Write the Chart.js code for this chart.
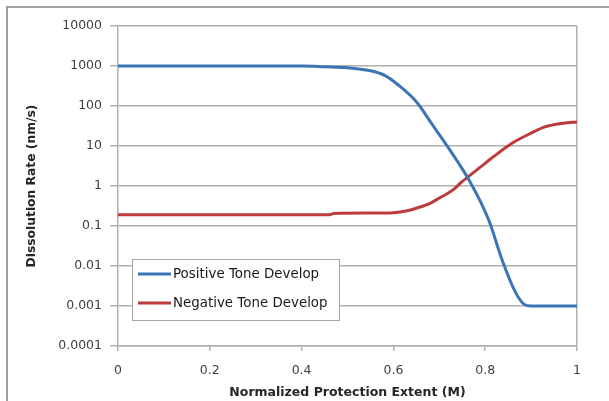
<!DOCTYPE html>
<html>
<head>
<meta charset="utf-8">
<script src="https://cdn.jsdelivr.net/npm/chart.js@4.4.1/dist/chart.umd.min.js"></script>
<style>
  html, body { margin: 0; padding: 0; background: #fff; }
  #wrap { position: relative; width: 609px; height: 401px; }
  #frame { position: absolute; left: 6px; top: 6px; right: 0; bottom: 0;
           border-left: 2px solid #a0a0a0; border-top: 2px solid #a0a0a0; }
</style>
</head>
<body>
<div id="wrap">
  <canvas id="dispChart" width="609" height="401"></canvas>
  <div id="frame"></div>
</div>
<script>
  // data
  const posX = [0, 0.1, 0.2, 0.3, 0.4, 0.45, 0.5, 0.55, 0.58, 0.61, 0.65, 0.685, 0.72, 0.745, 0.765, 0.79, 0.81, 0.837, 0.867, 0.885, 0.9, 0.95, 1];
  const posY = [1000, 1000, 1000, 1000, 1000, 960, 910, 760, 590, 340, 128, 34, 9, 3.3, 1.4, 0.4, 0.12, 0.014, 0.0021, 0.0011, 0.001, 0.001, 0.001];

  const negX = [0, 0.1, 0.2, 0.3, 0.4, 0.46, 0.47, 0.55, 0.6, 0.63, 0.65, 0.68, 0.7, 0.73, 0.75, 0.76, 0.79, 0.82, 0.86, 0.9, 0.93, 0.97, 1];
  const negY = [0.19, 0.19, 0.19, 0.19, 0.19, 0.19, 0.205, 0.21, 0.215, 0.24, 0.28, 0.37, 0.5, 0.8, 1.3, 1.6, 3.0, 5.6, 12, 21, 30, 37, 40];

  const xTicks = [0, 0.2, 0.4, 0.6, 0.8, 1];
  const yTicks = [0.0001, 0.001, 0.01, 0.1, 1, 10, 100, 1000, 10000];

  const seriesNames = ['Positive Tone Develop', 'Negative Tone Develop'];
  const seriesColors = ['#3c75b6', '#bd3b3a'];

  const gridCol = '#b0b0b0';
  const fontFam = "'DejaVu Sans', sans-serif";

  const pts = (xs, ys) => xs.map((x, i) => ({ x: x, y: ys[i] }));

  // legend drawn inside the plot, boxed like the original
  const boxLegend = {
    id: 'boxLegend',
    afterDraw(chart) {
      const c = chart.ctx;
      const left = chart.chartArea.left + 14, top = 259, w = 207, h = 61;
      c.save();
      c.fillStyle = '#fff';
      c.fillRect(left, top, w, h);
      c.strokeStyle = '#a6a6a6';
      c.lineWidth = 1;
      c.strokeRect(left + 0.5, top + 0.5, w, h);
      c.font = '13.4px ' + fontFam;
      c.textBaseline = 'middle';
      chart.data.datasets.forEach((ds, i) => {
        const y = top + 15 + i * 29;
        c.strokeStyle = ds.borderColor;
        c.lineWidth = 3;
        c.beginPath();
        c.moveTo(left + 6, y);
        c.lineTo(left + 39, y);
        c.stroke();
        c.fillStyle = '#1a1a1a';
        c.fillText(ds.label, left + 41, y + 1);
      });
      c.restore();
    }
  };

  const data = {
    datasets: [{
      label: seriesNames[0],
      data: pts(posX, posY),
      borderColor: seriesColors[0],
      borderWidth: 3,
      pointRadius: 0,
      cubicInterpolationMode: 'monotone'
    }, {
      label: seriesNames[1],
      data: pts(negX, negY),
      borderColor: seriesColors[1],
      borderWidth: 3,
      pointRadius: 0,
      cubicInterpolationMode: 'monotone'
    }]
  };

  const config = {
    type: 'line',
    data: data,
    options: {
      responsive: false,
      animation: false,
      layout: { padding: { left: 20, top: 26, right: 32, bottom: 0 } },
      plugins: { legend: { display: false }, tooltip: { enabled: false } },
      scales: {
        x: {
          type: 'linear',
          min: 0, max: 1,
          afterBuildTicks: s => { s.ticks = xTicks.map(v => ({ value: v })); },
          ticks: { color: '#404040', font: { family: fontFam, size: 12.5 }, padding: 12,
                   callback: v => String(v) },
          grid: { color: ctx => (ctx.tick && ctx.tick.value === 1) ? gridCol : 'rgba(0,0,0,0)',
                  tickColor: gridCol, tickLength: 5, lineWidth: 1.5 },
          border: { color: gridCol, width: 1.5 },
          title: { display: true, text: 'Normalized Protection Extent (M)', color: '#262626',
                   font: { family: fontFam, size: 12.5, weight: 'bold' }, padding: { top: 4, bottom: 1 } },
          afterFit: s => { s.height = 401 - 346; }
        },
        y: {
          type: 'logarithmic',
          min: 0.0001, max: 10000,
          afterBuildTicks: s => { s.ticks = yTicks.map(v => ({ value: v })); },
          ticks: { color: '#404040', font: { family: fontFam, size: 12.5 }, padding: 8,
                   callback: v => String(v) },
          grid: { color: gridCol, tickColor: gridCol, tickLength: 8, lineWidth: 1.5 },
          border: { color: gridCol, width: 1.5 },
          title: { display: true, text: 'Dissolution Rate (nm/s)', color: '#262626',
                   font: { family: fontFam, size: 12.3, weight: 'bold' }, padding: { bottom: 4 } },
          afterFit: s => { s.width = 118 - 20; }
        }
      }
    },
    plugins: [boxLegend]
  };

  const myChart = new Chart(document.getElementById('dispChart'), config);
</script>
</body>
</html>
